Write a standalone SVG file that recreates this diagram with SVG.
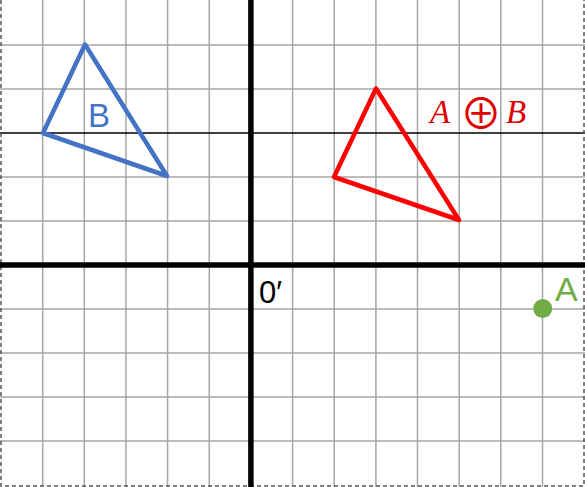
<svg xmlns="http://www.w3.org/2000/svg" width="585" height="487" viewBox="0 0 585 487">
<style>
.grid{stroke:#A6A6A6;stroke-width:1.5;fill:none}
.axis{stroke:#000;stroke-width:5.5;fill:none}
.thin{stroke:#000;stroke-width:1.5;fill:none}
.border{stroke:#555;stroke-width:1.5;stroke-dasharray:4 3;fill:none}
.tri{fill:none;stroke-width:4.5;stroke-linejoin:round}
.sans{font-family:"Liberation Sans",Arial,sans-serif}
.serif{font-family:"Liberation Serif","DejaVu Serif",serif}
.op{font-family:"Noto Sans CJK SC","Noto Sans CJK JP",sans-serif}
</style>
<rect x="0" y="0" width="585" height="487" fill="#fff"/>
<g id="grid">
<path class="grid" d="M42.7 0V487M84.3 0V487M126 0V487M167.6 0V487M209.3 0V487M292.6 0V487M334.2 0V487M375.9 0V487M417.5 0V487M459.2 0V487M500.8 0V487M542.5 0V487"/>
<path class="grid" d="M0 45H585M0 89H585M0 177H585M0 221H585M0 309H585M0 353H585M0 397H585M0 441H585"/>
<path class="thin" d="M0 133H585"/>
<path class="border" d="M1 0V486H584V0"/>
</g>
<g id="axes">
<path class="axis" d="M250.9 0V487M0 265H585"/>
</g>
<g id="triangleB">
<polygon class="tri" stroke="#4472C4" points="85,44.5 43,133 167,176"/>
<text class="sans" x="88" y="127" font-size="33" fill="#4472C4">B</text>
</g>
<g id="triangleAB">
<polygon class="tri" stroke="#FF0000" points="376,88.5 334,177 459,220"/>
<text class="serif" x="430" y="123" font-size="33" font-style="italic" fill="#E00000">A</text>
<text class="op" x="481" y="128.5" font-size="42" text-anchor="middle" fill="#E00000">⊕</text>
<text class="serif" x="506" y="123" font-size="33" font-style="italic" fill="#E00000">B</text>
</g>
<g id="origin">
<text class="sans" x="259" y="303" font-size="31" fill="#000">0′</text>
</g>
<g id="pointA">
<circle cx="542.7" cy="308.5" r="9.5" fill="#70AD47"/>
<text class="sans" x="555" y="301" font-size="34" fill="#70AD47">A</text>
</g>
</svg>
